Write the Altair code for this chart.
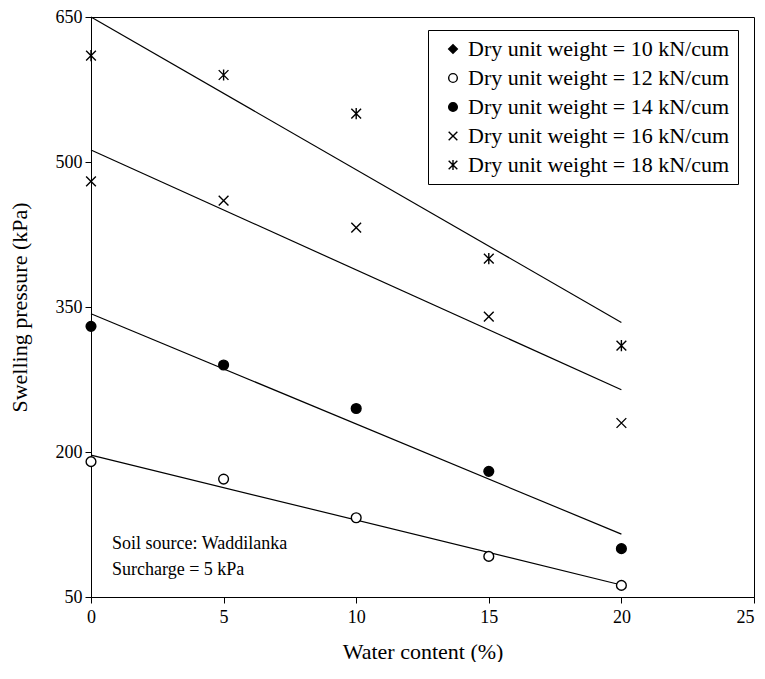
import altair as alt
import pandas as pd

# ---------------- data ----------------
water_content = [0, 5, 10, 15, 20]
series_names = [
    "Dry unit weight = 10 kN/cum",
    "Dry unit weight = 12 kN/cum",
    "Dry unit weight = 14 kN/cum",
    "Dry unit weight = 16 kN/cum",
    "Dry unit weight = 18 kN/cum",
]
p10 = []  # shown only in legend
p12 = [190, 172, 132, 92, 62]
p14 = [330, 290, 245, 180, 100]
p16 = [480, 460, 432, 340, 230]
p18 = [610, 590, 550, 400, 310]
y_ticks = [50, 200, 350, 500, 650]
x_ticks = [0, 5, 10, 15, 20, 25]
notes = ["Soil source: Waddilanka", "Surcharge = 5 kPa"]

rows = []
for name, vals in zip(series_names, [p10, p12, p14, p16, p18]):
    for w, p in zip(water_content, vals):
        rows.append({"w": w, "p": p, "series": name})
df = pd.DataFrame(rows)

FONT = "Liberation Serif"
shapes = [
    "diamond",
    "circle",
    "circle",
    "M-1,-1L1,1M-1,1L1,-1",
    "M-1,-1L1,1M-1,1L1,-1M0,-1.15L0,1.15",
]
fills = ["black", "white", "black", "black", "black"]
strokes = ["black", "black", "black", "black", "black"]

x_enc = alt.X(
    "w:Q",
    scale=alt.Scale(domain=[0, 25], nice=False),
    axis=alt.Axis(values=x_ticks, title="Water content (%)", grid=False,
                  labelFlush=False, tickSize=6, labelPadding=5, titlePadding=15,
                  labelAlign=alt.ExprRef(expr="datum.value == 25 ? 'right' : 'center'")),
)
y_enc = alt.Y(
    "p:Q",
    scale=alt.Scale(domain=[50, 650], nice=False, zero=False),
    axis=alt.Axis(values=y_ticks, title="Swelling pressure (kPa)", grid=False,
                  labelFlush=False, tickSize=6, labelPadding=3, titlePadding=24),
)

base = alt.Chart(df)

lines = base.transform_regression(
    "w", "p", groupby=["series"], extent=[0, 20]
).mark_line(color="black", strokeWidth=1.2).encode(
    x=x_enc, y=y_enc, detail="series:N"
)

legend = alt.Legend(
    title=None, orient="none", legendX=337, legendY=13,
    strokeColor="black", fillColor="white", padding=8,
    labelFont=FONT, labelFontSize=22, labelColor="black",
    symbolSize=75, symbolStrokeWidth=1.4, symbolOffset=6,
    rowPadding=7, labelOffset=4, labelLimit=400,
)

points = base.mark_point(filled=False, strokeWidth=1.4, opacity=1, size=95).encode(
    x=x_enc, y=y_enc,
    shape=alt.Shape("series:N", scale=alt.Scale(domain=series_names, range=shapes),
                    legend=legend),
    color=alt.Color("series:N", scale=alt.Scale(domain=series_names, range=strokes),
                    legend=legend),
    fill=alt.Fill("series:N", scale=alt.Scale(domain=series_names, range=fills),
                  legend=legend),
)

note_df = pd.DataFrame({"t": ["\n".join(notes)]})
note = alt.Chart(note_df).mark_text(
    align="left", baseline="top", font=FONT, fontSize=18, color="black",
    lineBreak="\n", lineHeight=26,
).encode(text="t:N", x=alt.value(21), y=alt.value(518))

chart = alt.layer(lines, points, note).properties(
    width=663, height=580,
    autosize=alt.AutoSizeParams(type="none"),
    padding={"left": 83, "top": 9, "right": 3, "bottom": 65},
).configure_view(
    stroke="black", strokeWidth=1
).configure_axis(
    domainColor="black", tickColor="black", labelColor="black", titleColor="black",
    labelFont=FONT, titleFont=FONT, labelFontSize=18, titleFontSize=22,
    titleFontWeight="normal", domainWidth=1, tickWidth=1,
)

chart.save("out.html", embed_options={"renderer": "svg", "actions": False})
